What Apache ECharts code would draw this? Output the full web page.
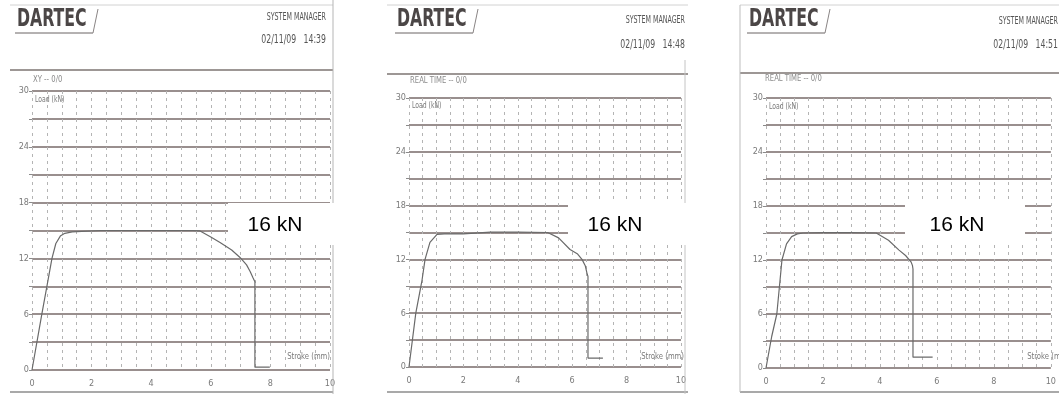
<!DOCTYPE html>
<html>
<head>
<meta charset="utf-8">
<title>DARTEC load–stroke records</title>
<script src="https://cdn.jsdelivr.net/npm/echarts@6/dist/echarts.min.js"></script>
<style>
  html, body { margin: 0; padding: 0; background: #ffffff; }
  #chart { width: 1059px; height: 394px; }
</style>
</head>
<body>
<div id="chart"></div>
<script>
// ---- data -------------------------------------------------------------
const strokeTicks = [0, 2, 4, 6, 8, 10];          // mm, labelled x ticks
const loadTicks   = [0, 6, 12, 18, 24, 30];       // kN, labelled y ticks
const plotTitles  = ['XY -- 0/0', 'REAL TIME -- 0/0', 'REAL TIME -- 0/0'];
const timestamps  = ['02/11/09   14:39', '02/11/09   14:48', '02/11/09   14:51'];
const peakLoad    = 16;                           // kN, annotated maximum load

// test 1 (14:39)
const stroke1 = [0, 0.33, 0.5, 0.67, 0.8, 0.95, 1.1, 1.35, 2.3, 3.5, 4.5, 5.4, 5.64, 6.0, 6.31, 6.7, 6.98, 7.2, 7.32, 7.42, 7.48, 7.48, 7.98];
const load1   = [0, 6.0, 9.0, 12.0, 13.6, 14.4, 14.7, 14.85, 15.0, 15.0, 15.0, 15.0, 14.95, 14.3, 13.7, 12.9, 12.1, 11.3, 10.6, 9.9, 9.5, 0.3, 0.3];

// test 2 (14:48)
const stroke2 = [0, 0.25, 0.48, 0.59, 0.77, 1.03, 1.3, 1.99, 2.0, 3.0, 4.0, 5.1, 5.5, 5.92, 6.2, 6.36, 6.48, 6.54, 6.58, 6.58, 7.13];
const load2   = [0, 6.0, 9.7, 12.0, 13.9, 14.8, 14.85, 14.85, 15.05, 15.05, 15.05, 15.0, 14.4, 13.1, 12.6, 12.0, 11.3, 10.5, 10.1, 1.0, 1.0];

// test 3 (14:51)
const stroke3 = [0, 0.2, 0.38, 0.56, 0.72, 0.9, 1.1, 1.3, 2.0, 3.0, 3.87, 4.3, 4.67, 4.9, 5.09, 5.14, 5.16, 5.16, 5.85];
const load3   = [0, 3.5, 6.0, 12.0, 13.8, 14.6, 14.9, 15.0, 15.05, 15.05, 15.0, 14.2, 13.1, 12.5, 11.8, 11.4, 11.0, 1.2, 1.2];

const series = [
  { stroke: stroke1, load: load1 },
  { stroke: stroke2, load: load2 },
  { stroke: stroke3, load: load3 }
];

// ---- layout -----------------------------------------------------------
const grids = [
  { left: 32,  top: 91, width: 298, height: 279 },
  { left: 409, top: 98, width: 272, height: 269 },
  { left: 766, top: 98, width: 287, height: 270 }
];

const PRINT_FONT = '"DejaVu Sans Condensed", "DejaVu Sans", sans-serif';
const INK = '#5e5a58';
const GRID_H = '#776a68';
const GRID_V = '#b4b4b4';

const chart = echarts.init(document.getElementById('chart'), null, { renderer: 'canvas' });

const xAxes = grids.map((g, i) => ({
  type: 'value', gridIndex: i, min: 0, max: 10, interval: 0.5,
  axisLine: { show: false },
  axisTick: { show: false },
  axisLabel: {
    color: '#7a7a7a', fontFamily: PRINT_FONT, fontSize: 9, margin: 9,
    showMinLabel: true, showMaxLabel: true,
    formatter: v => strokeTicks.includes(v) ? String(v) : ''
  },
  splitLine: { show: true, lineStyle: { color: GRID_V, width: 1, type: [3, 4] } }
}));

const yAxes = grids.map((g, i) => ({
  type: 'value', gridIndex: i, min: 0, max: 30, interval: 3,
  axisLine: { show: false },
  axisTick: { show: true, length: 3, lineStyle: { color: '#8a8a8a' },
              interval: (idx, v) => loadTicks.includes(Number(v)) },
  axisLabel: {
    color: '#7a7a7a', fontFamily: PRINT_FONT, fontSize: 9, margin: 3,
    showMinLabel: true, showMaxLabel: true,
    formatter: v => loadTicks.includes(v) ? String(v) : ''
  },
  splitLine: { show: true, lineStyle: { color: GRID_H, width: 1.5 } }
}));

const lineSeries = series.map((s, i) => ({
  type: 'line', xAxisIndex: i, yAxisIndex: i,
  showSymbol: false, smooth: false, animation: false,
  lineStyle: { color: '#6a6a6a', width: 1.2 },
  data: s.stroke.map((x, k) => [x, s.load[k]]),
  z: 5
}));

// ---- printout decorations (header, frames, captions) ------------------
const headers = [
  { left: 10,  right: 333, rule: 70, logoX: 17,  smRight: 326,  smY: 17, dateY: 40, titleX: 33,  titleY: 80, loadY: 100, strokeRight: 330,  strokeY: 357 },
  { left: 387, right: 688, rule: 74, logoX: 397, smRight: 685,  smY: 20, dateY: 45, titleX: 410, titleY: 81, loadY: 106, strokeRight: 684,  strokeY: 357 },
  { left: 740, right: 1059, rule: 73, logoX: 749, smRight: 1058, smY: 21, dateY: 45, titleX: 765, titleY: 79, loadY: 107, strokeRight: 1070, strokeY: 357 }
];

const noteBoxes = [
  { x: 228, y: 203, w: 107, h: 42, tx: 275 },
  { x: 568, y: 203, w: 122, h: 42, tx: 615 },
  { x: 905, y: 203, w: 120, h: 42, tx: 957 }
];

const graphic = [];
const line = (x1, y1, x2, y2, color, width, z) => ({
  type: 'line', silent: true, z: z || 10,
  shape: { x1, y1, x2, y2 },
  style: { stroke: color, lineWidth: width }
});
const text = (x, y, str, opts) => ({
  type: 'text', silent: true, z: opts.z || 12, x, y,
  scaleX: opts.scaleX || 1,
  style: Object.assign({
    text: str, fill: INK, font: '9px ' + PRINT_FONT,
    textAlign: 'left', textVerticalAlign: 'middle'
  }, opts.style || {})
});

headers.forEach((h, i) => {
  // page frame
  graphic.push(line(h.left, 5, h.right, 5, '#d2d2d2', 1));
  graphic.push(line(h.left, 392, h.right, 392, '#8d8d8d', 1.3));
  graphic.push(line(h.left, h.rule, h.right, h.rule, '#7c7472', 1.5));
  // DARTEC logo
  graphic.push(text(h.logoX, 19, 'DARTEC', { scaleX: 0.7, style: {
    font: 'bold 25px "DejaVu Sans Condensed", "DejaVu Sans", sans-serif',
    fill: '#4b4646' } }));
  graphic.push(line(h.logoX - 2, 33, h.logoX + 76, 33, '#6a6565', 1));
  graphic.push(line(h.logoX + 81, 9, h.logoX + 76, 33, '#8a8585', 1));
  // system manager stamp
  graphic.push(text(h.smRight, h.smY, 'SYSTEM MANAGER', { scaleX: 0.64, style: {
    font: '11px ' + PRINT_FONT, textAlign: 'right', fill: '#555' } }));
  graphic.push(text(h.smRight, h.dateY, timestamps[i], { scaleX: 0.72, style: {
    font: '12px ' + PRINT_FONT, textAlign: 'right', fill: '#555' } }));
  // plot captions
  graphic.push(text(h.titleX, h.titleY, plotTitles[i], { scaleX: 0.85, style: {
    font: '9px ' + PRINT_FONT, fill: '#8a8a8a' } }));
  graphic.push(text(grids[i].left + 3, h.loadY, 'Load (kN)', { scaleX: 0.85, style: {
    font: '8px ' + PRINT_FONT, fill: '#7a7a7a' } }));
  graphic.push(text(h.strokeRight, h.strokeY, 'Stroke (mm)', { scaleX: 0.85, style: {
    font: '9px ' + PRINT_FONT, fill: '#7a7a7a', textAlign: 'right' } }));
});

// side edges of the printouts
graphic.push(line(333, 0, 333, 394, '#b5b5b5', 1));
graphic.push(line(685, 60, 685, 394, '#c4c4c4', 1));
graphic.push(line(740, 5, 740, 392, '#bdbdbd', 1));

// maximum-load notes
noteBoxes.forEach(b => {
  graphic.push({ type: 'rect', silent: true, z: 20,
    shape: { x: b.x, y: b.y, width: b.w, height: b.h },
    style: { fill: '#ffffff' } });
  graphic.push(text(b.tx, b.y + b.h / 2 + 1, peakLoad + ' kN', { z: 21, style: {
    font: '21px "Liberation Sans", Arial, sans-serif', fill: '#000000', textAlign: 'center' } }));
});

chart.setOption({
  animation: false,
  backgroundColor: '#ffffff',
  grid: grids.map(g => Object.assign({ containLabel: false }, g)),
  xAxis: xAxes,
  yAxis: yAxes,
  series: lineSeries,
  graphic: graphic
});
</script>
</body>
</html>
